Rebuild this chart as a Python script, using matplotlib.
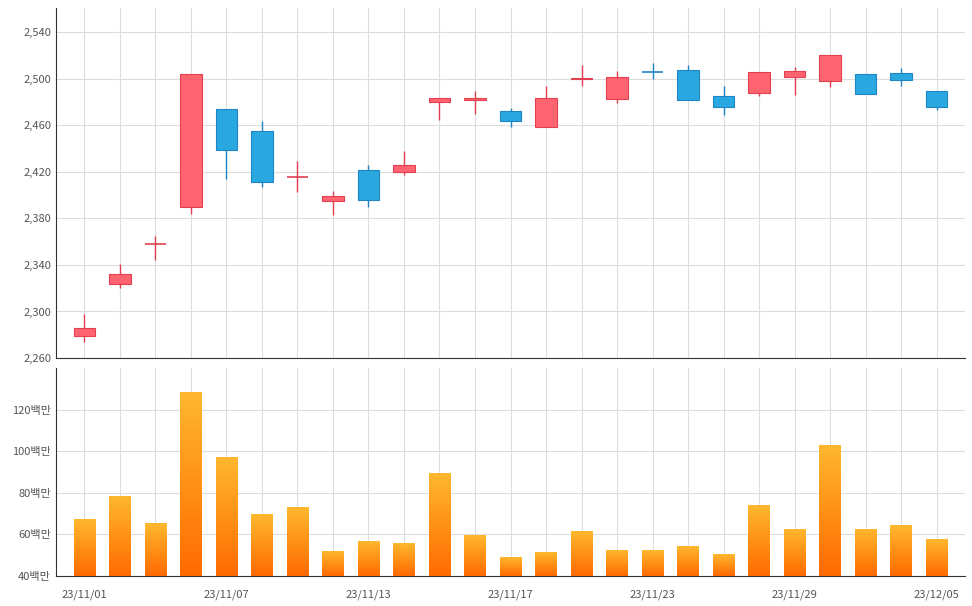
import matplotlib.pyplot as plt
import numpy as np
from matplotlib.colors import LinearSegmentedColormap

plt.rcParams['font.family'] = ['Noto Sans CJK KR', 'DejaVu Sans']

dates = ["23/11/01", "23/11/02", "23/11/03", "23/11/06", "23/11/07", "23/11/08", "23/11/09",
         "23/11/10", "23/11/13", "23/11/14", "23/11/15", "23/11/16", "23/11/17", "23/11/20",
         "23/11/21", "23/11/22", "23/11/23", "23/11/24", "23/11/27", "23/11/28", "23/11/29",
         "23/11/30", "23/12/01", "23/12/04", "23/12/05"]
opens = [2279, 2324, 2358, 2390, 2474, 2455, 2416, 2395, 2422, 2420, 2480, 2482, 2472, 2459,
         2500, 2483, 2506, 2508, 2485, 2488, 2502, 2498, 2504, 2505, 2490]
highs = [2298, 2341, 2365, 2504, 2474, 2464, 2429, 2404, 2426, 2438, 2484, 2490, 2475, 2494,
         2512, 2507, 2514, 2512, 2494, 2506, 2510, 2521, 2504, 2509, 2490]
lows = [2274, 2320, 2344, 2384, 2414, 2407, 2403, 2383, 2390, 2417, 2465, 2470, 2459, 2459,
        2494, 2479, 2500, 2482, 2469, 2485, 2486, 2493, 2487, 2494, 2473]
closes = [2286, 2332, 2358, 2504, 2439, 2411, 2416, 2399, 2396, 2426, 2484, 2484, 2464, 2484,
          2501, 2502, 2506, 2482, 2476, 2506, 2507, 2521, 2487, 2499, 2476]
volumes = [67.3, 78.3, 65.4, 128.6, 97.0, 69.7, 73.0, 52.0, 56.8, 55.8, 89.3, 59.6, 49.0, 51.5,
           61.6, 52.5, 52.5, 54.4, 50.5, 74.0, 62.5, 103.2, 62.5, 64.4, 57.7]

fig = plt.figure(figsize=(9.72, 6.06), dpi=100)
ax1 = fig.add_axes([56 / 972, 1 - 358 / 606, 909 / 972, 350 / 606])
ax2 = fig.add_axes([56 / 972, 1 - 576 / 606, 909 / 972, 208 / 606])

x = np.arange(len(dates))
w = 0.6
for i in x:
    up = closes[i] >= opens[i] and not (closes[i] == opens[i] and i == 16)
    fc = '#ff6470' if up else '#29a8e0'
    ec = '#e0404f' if up else '#1f84c4'
    ax1.vlines(i, lows[i], highs[i], color=ec, lw=1, zorder=2)
    lo, hi = min(opens[i], closes[i]), max(opens[i], closes[i])
    if hi - lo < 0.8:
        ax1.hlines(lo, i - w / 2, i + w / 2, color=ec, lw=1.2, zorder=3)
    else:
        ax1.bar(i, hi - lo, bottom=lo, width=w, color=fc, edgecolor=ec, lw=0.8, zorder=3)

cmap = LinearSegmentedColormap.from_list('vol', ['#ff6a00', '#ffb830'])
grad = np.linspace(0, 1, 256).reshape(-1, 1)
bars = ax2.bar(x, np.array(volumes) - 40, bottom=40, width=w, color='none', zorder=3)
for b in bars:
    x0, y0, bw, bh = b.get_x(), b.get_y(), b.get_width(), b.get_height()
    im = ax2.imshow(grad, cmap=cmap, aspect='auto', origin='lower',
                    extent=[x0, x0 + bw, y0, y0 + bh], zorder=3)
    im.set_clip_path(b)

for ax in (ax1, ax2):
    ax.set_xlim(-0.8, len(dates) - 0.2)
    ax.set_xticks(x)
    ax.grid(True, color='#dddddd', lw=0.8, zorder=0)
    for s in ('top', 'right'):
        ax.spines[s].set_visible(False)
    ax.spines['left'].set_color('#333333')
    ax.spines['bottom'].set_color('#333333')
    ax.tick_params(length=0, labelsize=8, colors='#555555')

ax1.set_ylim(2260, 2561)
ax1.set_yticks(range(2260, 2541, 40))
ax1.set_yticklabels([f"{v:,}" for v in range(2260, 2541, 40)])
ax1.set_xticklabels([])

ax2.set_ylim(40, 140)
ax2.set_yticks(range(40, 121, 20))
ax2.set_yticklabels([f"{v}백만" for v in range(40, 121, 20)])
ax2.set_xticklabels([d if i % 4 == 0 else '' for i, d in enumerate(dates)])
ax2.tick_params(axis='x', pad=10)

fig.savefig("out.png", dpi=100)
